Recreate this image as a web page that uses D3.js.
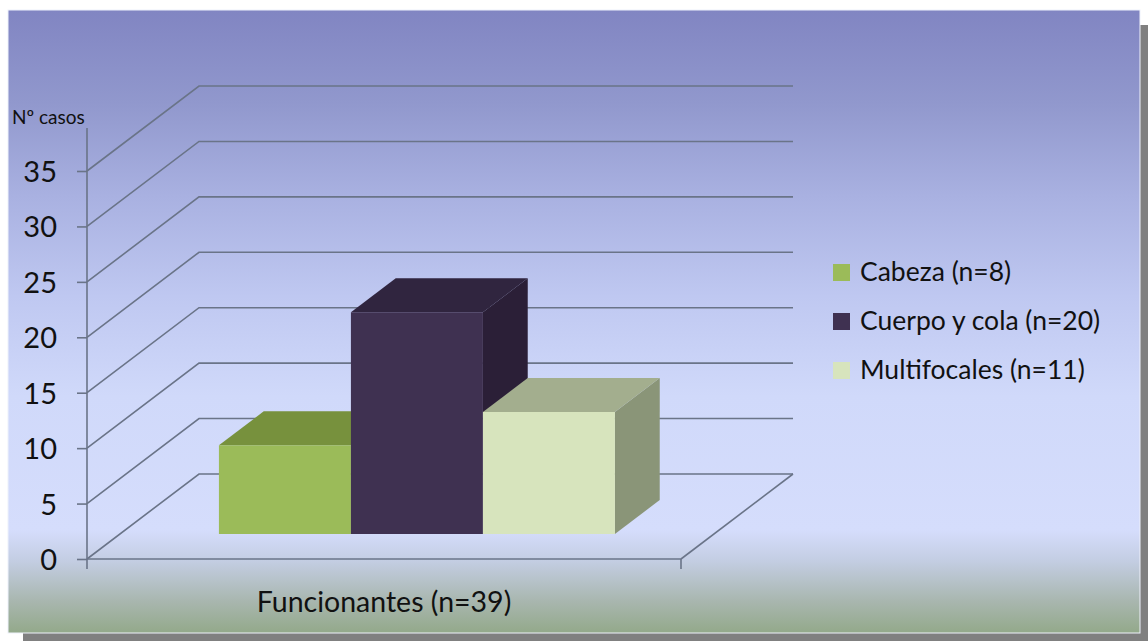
<!DOCTYPE html>
<html><head><meta charset="utf-8">
<script src="https://cdn.jsdelivr.net/npm/d3@7"></script>
<style>body{margin:0;background:#fff}svg{display:block}</style>
</head><body>
<script>
const categories = ["Funcionantes (n=39)"];
const series = ["Cabeza (n=8)", "Cuerpo y cola (n=20)", "Multifocales (n=11)"];
const values = [8, 20, 11];
const yTicks = [0, 5, 10, 15, 20, 25, 30, 35];
const yLabel = "Nº casos";
const frontColors = ["#9bbb59", "#3f3151", "#d7e4bd"];
const topColors = ["#77913d", "#30253f", "#a3ae8e"];
const sideColors = ["#6b8535", "#2b1f37", "#8a9578"];

const W = 1148, H = 641;
const FONT = "Lato, 'Open Sans', sans-serif";
const svg = d3.select("body").append("svg").attr("width", W).attr("height", H);
const defs = svg.append("defs");
const grad = defs.append("linearGradient").attr("id", "bg").attr("x1", 0).attr("y1", 0).attr("x2", 0).attr("y2", 1);
[[0, "#8185c2"], [0.15, "#9198cd"], [0.30, "#a9b1e1"], [0.46, "#bfc8f1"], [0.62, "#d0d9fa"],
 [0.835, "#d5ddfc"], [0.885, "#c3cde2"], [0.95, "#a8b6ae"], [1, "#93a98a"]]
  .forEach(([o, c]) => grad.append("stop").attr("offset", o).attr("stop-color", c));

// shadow + panel
svg.append("rect").attr("x", 23).attr("y", 25).attr("width", W - 23).attr("height", H - 25).attr("fill", "#808080");
svg.append("rect").attr("x", 8).attr("y", 10).attr("width", 1132).attr("height", 623)
  .attr("fill", "url(#bg)").attr("stroke", "#eef1fb").attr("stroke-width", 1);

const DX = 112, DY = 85;
const y = d3.scaleLinear().domain([0, 35]).range([559, 171]);
const x = d3.scaleBand().domain(categories).range([87, 681]);
const GRID = "#6a7488";

// back wall gridlines with left-wall diagonals
const g = svg.append("g").attr("fill", "none").attr("stroke", GRID).attr("stroke-width", 1.6);
yTicks.forEach(t => {
  const yy = y(t);
  g.append("path").attr("d", `M${x.range()[0]},${yy} L${x.range()[0] + DX},${yy - DY} L${x.range()[1] + DX},${yy - DY}`);
});
// floor right diagonal
g.append("path").attr("d", `M${x.range()[1]},${y(0)} L${x.range()[1] + DX},${y(0) - DY}`);

// y axis
const yAxis = d3.axisLeft(y).tickValues(yTicks).tickSize(10).tickSizeOuter(0).tickPadding(20);
const ya = svg.append("g").attr("transform", `translate(${x.range()[0]},0)`).call(yAxis);
ya.select(".domain").remove();
ya.selectAll(".tick line").attr("stroke", GRID).attr("stroke-width", 1.6);
ya.selectAll(".tick text").attr("font-family", FONT).attr("font-size", 29).attr("fill", "#111").attr("dy", "0.36em");
svg.append("line").attr("x1", x.range()[0]).attr("x2", x.range()[0]).attr("y1", 128).attr("y2", 569)
  .attr("stroke", GRID).attr("stroke-width", 1.6);

// x axis front floor
svg.append("line").attr("x1", x.range()[0]).attr("x2", x.range()[1]).attr("y1", y(0)).attr("y2", y(0))
  .attr("stroke", GRID).attr("stroke-width", 1.6);
svg.append("line").attr("x1", x.range()[1]).attr("x2", x.range()[1]).attr("y1", y(0)).attr("y2", y(0) + 10)
  .attr("stroke", GRID).attr("stroke-width", 1.6);

svg.append("text").attr("x", 12).attr("y", 124).attr("font-family", FONT).attr("font-size", 19)
  .attr("fill", "#111").text(yLabel);

categories.forEach(c => {
  svg.append("text").attr("x", x(c) + x.bandwidth() / 2).attr("y", 612).attr("text-anchor", "middle")
    .attr("font-family", FONT).attr("font-size", 28.5).attr("fill", "#111").text(c);
});

// bars
const d0 = 0.294, d1 = 0.694;
const P = (px, v, d) => [px + d * DX, y(v) - d * DY];
const s = d3.scaleBand().domain(series).range([x(categories[0]), x(categories[0]) + x.bandwidth()])
  .paddingInner(0).paddingOuter(0.75);
const poly = pts => "M" + pts.map(p => p.join(",")).join("L") + "Z";
const bars = svg.append("g");
series.forEach((name, i) => {
  const v = values[i], x0 = s(name), x1 = x0 + s.bandwidth();
  bars.append("path").attr("d", poly([P(x1, 0, d0), P(x1, 0, d1), P(x1, v, d1), P(x1, v, d0)])).attr("fill", sideColors[i]);
  bars.append("path").attr("d", poly([P(x0, v, d0), P(x1, v, d0), P(x1, v, d1), P(x0, v, d1)])).attr("fill", topColors[i]);
  bars.append("path").attr("d", poly([P(x0, 0, d0), P(x1, 0, d0), P(x1, v, d0), P(x0, v, d0)])).attr("fill", frontColors[i]);
});

// legend
const leg = svg.append("g");
series.forEach((name, i) => {
  const cy = 272 + i * 49;
  leg.append("rect").attr("x", 833).attr("y", cy - 8).attr("width", 17).attr("height", 17).attr("fill", frontColors[i]);
  leg.append("text").attr("x", 860).attr("y", cy + 9).attr("font-family", FONT).attr("font-size", 26.5)
    .attr("fill", "#111").text(name);
});
</script>
</body></html>
